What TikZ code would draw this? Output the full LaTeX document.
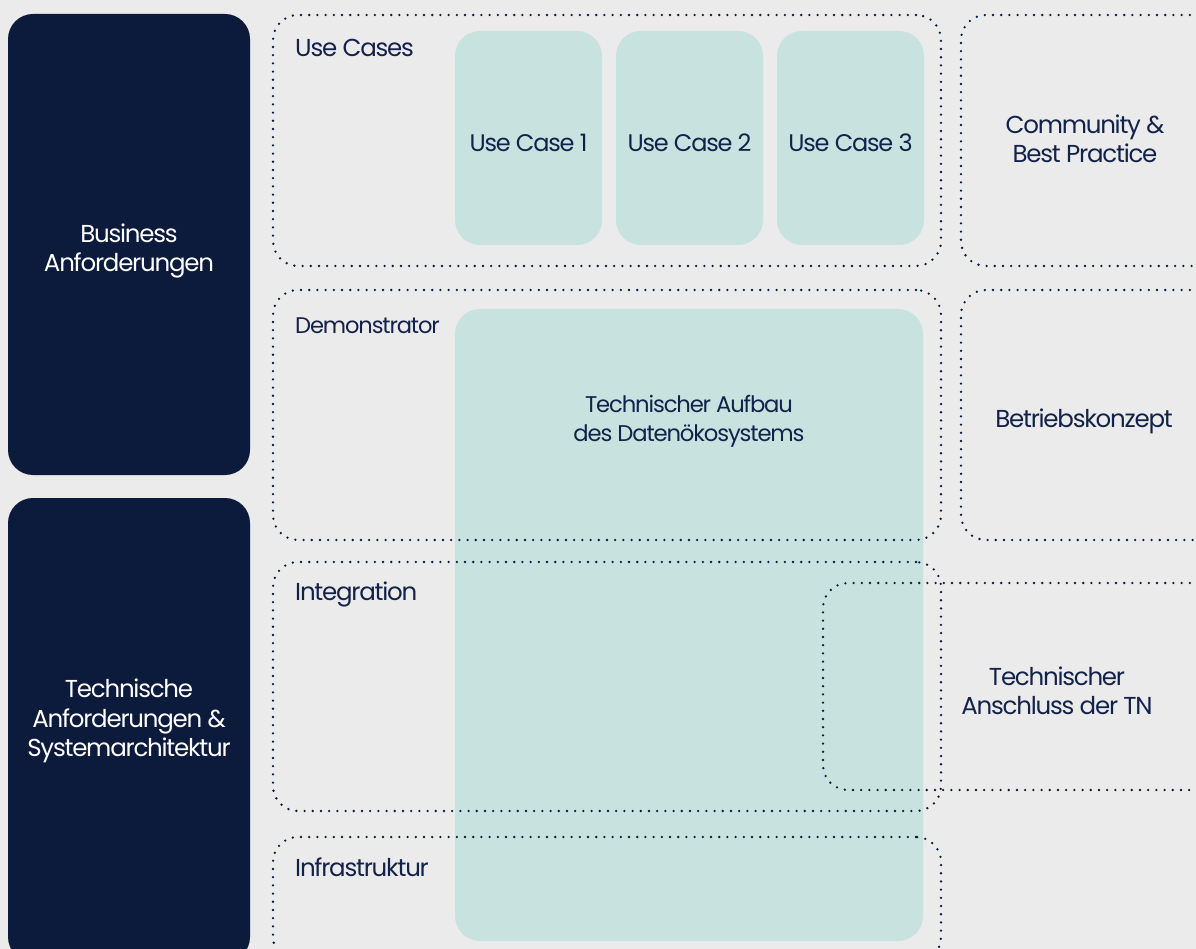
\documentclass[tikz,border=0pt]{standalone}
\usepackage{fontspec}
\setmainfont{Poppins}[LetterSpace=-5]
\definecolor{bg}{HTML}{EBEBEB}
\definecolor{navy}{HTML}{0C1A3C}
\definecolor{teal}{HTML}{C7E2DF}
\definecolor{ink}{HTML}{13224A}
\tikzset{
  darkbox/.style={fill=navy, draw=none, rounded corners=25pt, inner sep=0pt},
  tealbox/.style={fill=teal, draw=none, rounded corners=25pt, inner sep=0pt},
  dotbox/.style={draw=navy, line width=2.6pt, line cap=round, dash pattern=on 0pt off 8.2pt, rounded corners=25pt, inner sep=0pt, fill=none},
  txt/.style={font=\fontsize{24.5}{29.5}\selectfont, text=ink, align=center, inner sep=0pt},
  wtxt/.style={txt, text=white},
  lbl/.style={font=\fontsize{24.5}{29.5}\selectfont, text=ink, anchor=west, inner sep=0pt}
}
\begin{document}
\begin{tikzpicture}[x=1pt,y=-1pt]
\useasboundingbox (0,0) rectangle (1196,949);
\clip (0,0) rectangle (1196,949);
\fill[bg] (0,0) rectangle (1196,949);
% dark boxes
\node[darkbox, minimum width=242pt, minimum height=461pt] (bus) at (129,244.5) {};
\node[darkbox, minimum width=242pt, minimum height=464pt] (tech) at (129,730) {};
\node[wtxt] (bustxt) at (129,251) {Business\\Anforderungen};
\node[wtxt] (techtxt) at (129,721) {Technische\\Anforderungen \&\\Systemarchitektur};
% teal boxes
\node[tealbox, minimum width=147pt, minimum height=214pt] (uc1) at (528.5,138) {};
\node[tealbox, minimum width=147pt, minimum height=214pt] (uc2) at (689.5,138) {};
\node[tealbox, minimum width=147pt, minimum height=214pt] (uc3) at (850.5,138) {};
\node[txt, font=\fontsize{24}{29.5}\selectfont] (uc1t) at (528.5,143) {Use Case 1};
\node[txt, font=\fontsize{24}{29.5}\selectfont] (uc2t) at (689.5,143) {Use Case 2};
\node[txt, font=\fontsize{24}{29.5}\selectfont] (uc3t) at (850.5,143) {Use Case 3};
\node[tealbox, minimum width=468pt, minimum height=632pt] (tab) at (689,625) {};
\node[txt, font=\fontsize{22.7}{29.5}\selectfont] (tabtxt) at (689,421.5) {Technischer Aufbau\\des Datenökosystems};
% dotted boxes
\node[dotbox, minimum width=668pt, minimum height=251pt] (uc) at (607,140.5) {};
\node[dotbox, minimum width=668pt, minimum height=250pt] (demo) at (607,415) {};
\node[dotbox, minimum width=668pt, minimum height=249pt] (integ) at (607,686.5) {};
\node[dotbox, minimum width=668pt, minimum height=125pt] (infra) at (607,899.5) {};
\node[dotbox, minimum width=262pt, minimum height=251pt] (comm) at (1092,140.5) {};
\node[dotbox, minimum width=262pt, minimum height=250pt] (betr) at (1092,415) {};
\node[dotbox, minimum width=400pt, minimum height=207pt] (ansch) at (1023,686.5) {};
% labels
\node[lbl] (ucl) at (295,47.5) {Use Cases};
\node[lbl, font=\fontsize{22.6}{29.5}\selectfont] (demol) at (295,326) {Demonstrator};
\node[lbl] (integl) at (295,594) {Integration};
\node[lbl] (infral) at (295,867) {Infrastruktur};
\node[txt] (commt) at (1085,139) {Community \&\\Best Practice};
\node[txt] (betrt) at (1084,421) {Betriebskonzept};
\node[txt] (anscht) at (1057,691) {Technischer\\Anschluss der TN};
\end{tikzpicture}
\end{document}
